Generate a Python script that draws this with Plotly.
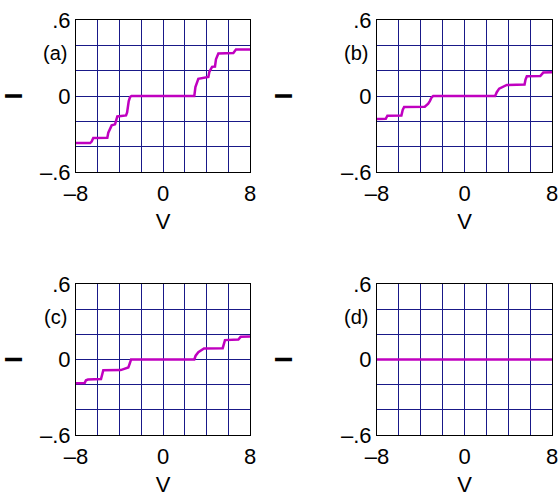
import plotly.graph_objects as go

# ---- data ----
V_a = [-8, -6.7, -6.56, -6.41, -5.12, -5.03, -4.72, -4.41, -4.3, -4.2, -3.4, -3.3, -3.15, -3.03, -2.9,
       2.88, 2.98, 3.25, 4.17, 4.26, 4.51, 4.78, 4.87, 5.09, 6.47, 6.6, 6.71, 8]
I_a = [-0.372, -0.372, -0.36, -0.332, -0.33, -0.29, -0.232, -0.224, -0.19, -0.161, -0.153, -0.13, -0.04, -0.008, 0,
       0, 0.07, 0.136, 0.15, 0.19, 0.23, 0.232, 0.29, 0.335, 0.34, 0.36, 0.367, 0.367]

V_b = [-8, -7.2, -7.05, -5.77, -5.65, -5.52, -3.63, -3.45, -3.32, -3.17, -3.0, -2.86,
       2.8, 2.95, 3.17, 3.87, 5.49, 5.58, 5.7, 6.93, 7.05, 7.2, 8]
I_b = [-0.182, -0.18, -0.156, -0.155, -0.11, -0.087, -0.085, -0.07, -0.061, -0.04, -0.01, 0,
       0, 0.03, 0.058, 0.087, 0.09, 0.13, 0.156, 0.158, 0.175, 0.185, 0.187]

V_c = [-8, -7.2, -7.08, -6.9, -5.7, -5.6, -5.49, -3.89, -3.6, -3.19, -3.05, -2.94,
       2.88, 3.0, 3.25, 3.77, 5.49, 5.6, 5.7, 6.93, 7.05, 7.14, 8]
I_c = [-0.188, -0.186, -0.165, -0.159, -0.155, -0.11, -0.085, -0.084, -0.075, -0.064, -0.03, 0,
       0, 0.03, 0.058, 0.087, 0.09, 0.13, 0.154, 0.158, 0.172, 0.18, 0.183]

V_d = [-8, 8]
I_d = [0, 0]

panel_labels = ["(a)", "(b)", "(c)", "(d)"]
x_tickvals = [-8, -6, -4, -2, 0, 2, 4, 6, 8]
x_ticktext = ["\u20138", "", "", "", "0", "", "", "", "8"]
y_tickvals = [-0.6, -0.4, -0.2, 0, 0.2, 0.4, 0.6]
y_ticktext = ["\u2013.6", "", "", "0", "", "", ".6"]

W, H = 558, 499
FONT = "Liberation Sans, Arial, sans-serif"

# panel pixel boxes in window coordinates (left, right, top, bottom)
boxes = [(76, 250, 20, 172), (377, 552, 20, 172), (76, 250, 284, 435), (377, 552, 284, 435)]
series = [(V_a, I_a), (V_b, I_b), (V_c, I_c), (V_d, I_d)]


def px(x):
    return x / W


def py(y):
    return 1 - y / H


fig = go.Figure()
LINE = "#c000c0"
GRID = "#191988"

for k, ((l, r, t, b), (vx, iy)) in enumerate(zip(boxes, series)):
    n = "" if k == 0 else str(k + 1)
    fig.add_trace(go.Scatter(x=vx, y=iy, mode="lines", line=dict(color=LINE, width=2.5),
                             xaxis="x" + n, yaxis="y" + n, showlegend=False, hoverinfo="skip",
                             cliponaxis=False))
    fig.layout["xaxis" + n] = dict(domain=[px(l), px(r)], range=[-8, 8], anchor="y" + n, automargin=False,
                                   tickvals=x_tickvals, ticktext=x_ticktext, ticklabeloverflow="allow",
                                   showgrid=True, gridcolor=GRID, gridwidth=1,
                                   showline=True, linecolor="black", linewidth=1, mirror=True,
                                   zeroline=False, ticks="", ticklen=0, ticklabelstandoff=2,
                                   tickfont=dict(family=FONT, size=22, color="black"),
                                   title=dict(text="V", font=dict(family=FONT, size=22, color="black"), standoff=8))
    fig.layout["yaxis" + n] = dict(domain=[py(b), py(t)], range=[-0.6, 0.6], anchor="x" + n, automargin=False,
                                   tickvals=y_tickvals, ticktext=y_ticktext, ticklabeloverflow="allow",
                                   showgrid=True, gridcolor=GRID, gridwidth=1,
                                   showline=True, linecolor="black", linewidth=1, mirror=True,
                                   zeroline=False, ticks="", ticklen=0,
                                   tickfont=dict(family=FONT, size=22, color="black"),
                                   title=dict(text="<b>I</b>", font=dict(family=FONT, size=24, color="black"), standoff=41))
    fig.add_annotation(text=panel_labels[k], x=px(l - 21), y=py(t + 33),
                       xanchor="center", yanchor="middle",
                       xref="paper", yref="paper", showarrow=False,
                       font=dict(family=FONT, size=20, color="black"))

fig.update_layout(width=W, height=H, margin=dict(l=0, r=0, t=0, b=0),
                  paper_bgcolor="white", plot_bgcolor="white")
fig.write_html("out.html", config={"displayModeBar": False},
               post_script="document.body.style.margin='0';document.body.style.overflow='hidden';")
